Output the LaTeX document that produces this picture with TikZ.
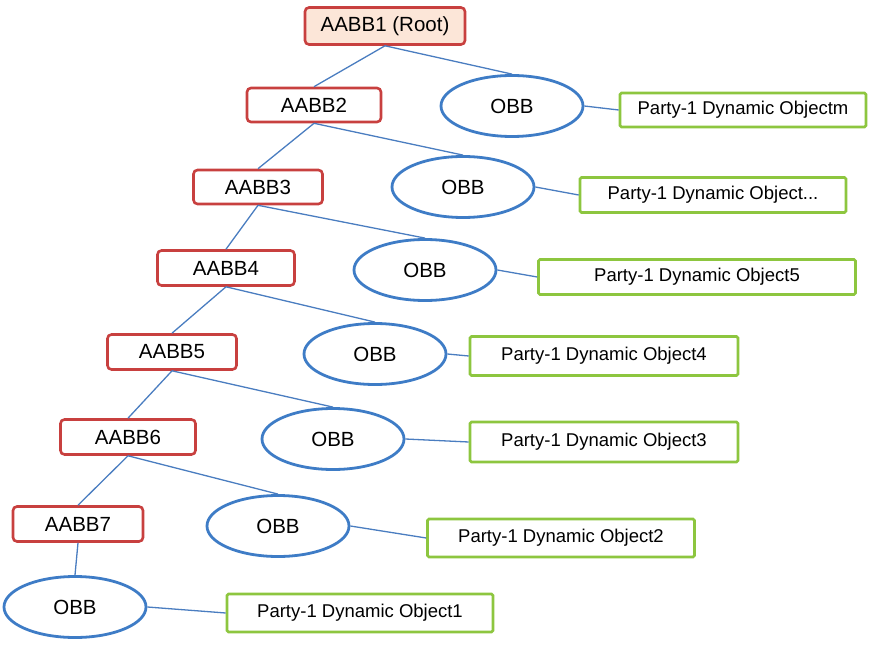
\documentclass[tikz,border=0pt]{standalone}
\usepackage{fontspec}
\setmainfont{Liberation Sans}
\usetikzlibrary{shapes.geometric}
\definecolor{aabbred}{HTML}{C8403F}
\definecolor{rootfill}{HTML}{FCE6D8}
\definecolor{obbblue}{HTML}{3E7CC6}
\definecolor{linkblue}{HTML}{4A7DC0}
\definecolor{objgreen}{HTML}{8DC63F}
\tikzset{
  aabb/.style={draw=aabbred, line width=2.6pt, rounded corners=4pt, fill=white,
    inner sep=0pt, font=\fontsize{20.5}{24}\selectfont},
  obb/.style={ellipse, draw=obbblue, line width=2.8pt, fill=white, inner sep=0pt,
    minimum width=142pt, minimum height=61pt, font=\fontsize{20.5}{24}\selectfont},
  obj/.style={draw=objgreen, line width=2.6pt, rounded corners=1.5pt, fill=white,
    inner sep=0pt, font=\fontsize{18.5}{22}\selectfont},
  link/.style={draw=linkblue, line width=1.3pt}
}
\begin{document}
\begin{tikzpicture}[x=1pt,y=-1pt]
\useasboundingbox (0,0) rectangle (870,647);
% AABB nodes
\node[aabb, fill=rootfill, minimum width=160pt, minimum height=37pt] (a1) at (385,26) {AABB1 (Root)};
\node[aabb, minimum width=134pt, minimum height=34pt] (a2) at (314,105) {AABB2};
\node[aabb, minimum width=129pt, minimum height=34pt] (a3) at (258,187) {AABB3};
\node[aabb, minimum width=137pt, minimum height=35pt] (a4) at (226,268) {AABB4};
\node[aabb, minimum width=129pt, minimum height=35pt] (a5) at (172,352) {AABB5};
\node[aabb, minimum width=135pt, minimum height=35pt] (a6) at (128,437) {AABB6};
\node[aabb, minimum width=130pt, minimum height=35pt] (a7) at (78,524) {AABB7};
% OBB nodes
\node[obb] (o1) at (512,106) {OBB};
\node[obb] (o2) at (463,187) {OBB};
\node[obb] (o3) at (425,270) {OBB};
\node[obb] (o4) at (375,354) {OBB};
\node[obb] (o5) at (333,439) {OBB};
\node[obb] (o6) at (278,526) {OBB};
\node[obb] (o7) at (75,607) {OBB};
% Object nodes
\node[obj, minimum width=246pt, minimum height=34pt] (g1) at (743,110) {Party-1 Dynamic Objectm};
\node[obj, minimum width=266pt, minimum height=35pt] (g2) at (713,195) {Party-1 Dynamic Object...};
\node[obj, minimum width=317pt, minimum height=35pt] (g3) at (697,277) {Party-1 Dynamic Object5};
\node[obj, minimum width=268pt, minimum height=39pt] (g4) at (604,356) {Party-1 Dynamic Object4};
\node[obj, minimum width=268pt, minimum height=40pt] (g5) at (604,442) {Party-1 Dynamic Object3};
\node[obj, minimum width=267pt, minimum height=38pt] (g6) at (561,538) {Party-1 Dynamic Object2};
\node[obj, minimum width=266pt, minimum height=38pt] (g7) at (360,613) {Party-1 Dynamic Object1};
% links
\begin{scope}[on background layer/.style={}]
\end{scope}
\draw[link] (a1.south) -- (a2.north);
\draw[link] (a1.south) -- (o1.north);
\draw[link] (a2.south) -- (a3.north);
\draw[link] (a2.south) -- (o2.north);
\draw[link] (a3.south) -- (a4.north);
\draw[link] (a3.south) -- (o3.north);
\draw[link] (a4.south) -- (a5.north);
\draw[link] (a4.south) -- (o4.north);
\draw[link] (a5.south) -- (a6.north);
\draw[link] (a5.south) -- (o5.north);
\draw[link] (a6.south) -- (a7.north);
\draw[link] (a6.south) -- (o6.north);
\draw[link] (a7.south) -- (o7.north);
\draw[link] (o1.east) -- (g1.west);
\draw[link] (o2.east) -- (g2.west);
\draw[link] (o3.east) -- (g3.west);
\draw[link] (o4.east) -- (g4.west);
\draw[link] (o5.east) -- (g5.west);
\draw[link] (o6.east) -- (g6.west);
\draw[link] (o7.east) -- (g7.west);
\end{tikzpicture}
\end{document}
